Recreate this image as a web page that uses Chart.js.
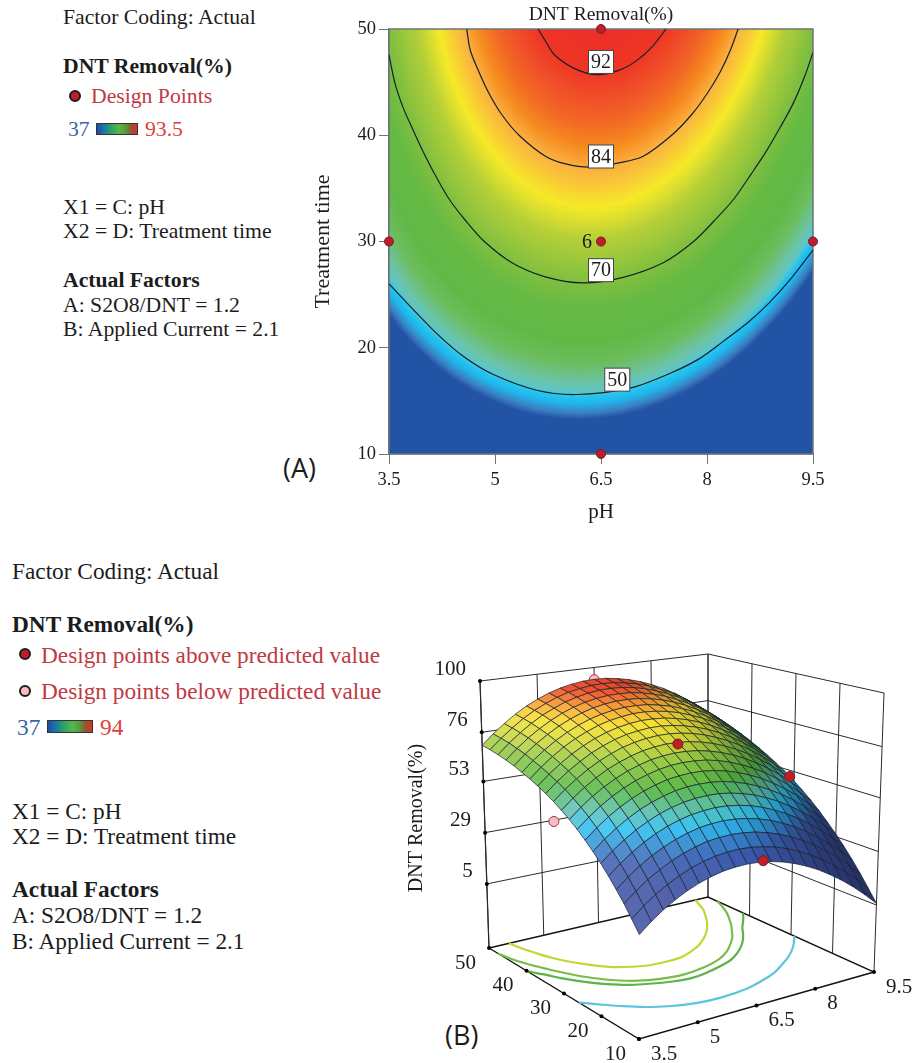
<!DOCTYPE html>
<html>
<head>
<meta charset="utf-8">
<title>DNT Removal</title>
<script src="https://cdn.jsdelivr.net/npm/chart.js@4/dist/chart.umd.js"></script>
<style>
  html, body { margin: 0; padding: 0; background: #fff; }
  body { position: relative; width: 914px; height: 1063px; overflow: hidden; font-family: "Liberation Serif", serif; color: #1c1c1c; }
  canvas { position: absolute; }
  #wrap-a { position: absolute; left: 300px; top: 0; width: 560px; height: 530px; }
  #wrap-b { position: absolute; left: 400px; top: 640px; width: 514px; height: 423px; }
  .t { position: absolute; white-space: nowrap; line-height: 1; transform: translateY(-50%); }
  .a { font-size: 21.7px; }
  .b { font-size: 23.3px; }
  .bold { font-weight: bold; }
  .red { color: #bf3a43; }
  .low { color: #3c64a8; }
  .high { color: #e0403c; }
  .dot { position: absolute; width: 12px; height: 12px; border-radius: 50%; border: 2px solid #1c1c1c; box-sizing: border-box; }
  .bar { position: absolute; border: 1px solid #333; box-sizing: border-box;
    background: linear-gradient(to right, #1d4fa0 0%, #1a6fb0 15%, #2e9e6a 35%, #55b848 55%, #55a040 70%, #8a5a30 85%, #e0302a 100%); }
  .panel { position: absolute; font-family: "Open Sans", sans-serif; font-size: 27px; transform: translateY(-50%); }
</style>
</head>
<body>

<div class="t a" style="left:63px;top:18px">Factor Coding: Actual</div>
<div class="t a bold" style="left:63px;top:67px">DNT Removal(%)</div>
<div class="dot" style="left:69px;top:90px;background:#bd1e2a"></div>
<div class="t a red" style="left:91px;top:97px">Design Points</div>
<div class="t a low" style="left:68px;top:130px">37</div>
<div class="bar" style="left:96px;top:123px;width:42px;height:12px"></div>
<div class="t a high" style="left:145px;top:130px">93.5</div>
<div class="t a" style="left:63px;top:208px">X1 = C: pH</div>
<div class="t a" style="left:63px;top:232px">X2 = D: Treatment time</div>
<div class="t a bold" style="left:63px;top:281px">Actual Factors</div>
<div class="t a" style="left:63px;top:306px">A: S2O8/DNT = 1.2</div>
<div class="t a" style="left:63px;top:330px">B: Applied Current = 2.1</div>
<div class="panel" style="left:283px;top:467px">(A)</div>

<div class="t b" style="left:12px;top:572px">Factor Coding: Actual</div>
<div class="t b bold" style="left:12px;top:625px">DNT Removal(%)</div>
<div class="dot" style="left:19px;top:648px;background:#bd1e2a"></div>
<div class="t b red" style="left:41px;top:656px">Design points above predicted value</div>
<div class="dot" style="left:19px;top:685px;background:#f7bcc4"></div>
<div class="t b red" style="left:41px;top:692px">Design points below predicted value</div>
<div class="t b low" style="left:17px;top:728px">37</div>
<div class="bar" style="left:47px;top:720px;width:46px;height:13px"></div>
<div class="t b high" style="left:100px;top:728px">94</div>
<div class="t b" style="left:12px;top:812px">X1 = C: pH</div>
<div class="t b" style="left:12px;top:837px">X2 = D: Treatment time</div>
<div class="t b bold" style="left:12px;top:890px">Actual Factors</div>
<div class="t b" style="left:12px;top:916px">A: S2O8/DNT = 1.2</div>
<div class="t b" style="left:12px;top:942px">B: Applied Current = 2.1</div>
<div class="panel" style="left:445px;top:1034px">(B)</div>

<div id="wrap-a"><canvas id="contour-chart"></canvas></div>
<div id="wrap-b"><canvas id="surface-chart"></canvas></div>

<script>
// Response surface: one row per treatment time, one column per pH
const phGrid = [3.5, 3.8, 4.1, 4.4, 4.7, 5.0, 5.3, 5.6, 5.9, 6.2, 6.5, 6.8, 7.1, 7.4, 7.7, 8.0, 8.3, 8.6, 8.9, 9.2, 9.5];
const timeGrid = [10, 12, 14, 16, 18, 20, 22, 24, 26, 28, 30, 32, 34, 36, 38, 40, 42, 44, 46, 48, 50];
const removal = [
  [17, 21.1, 24.7, 27.7, 30.3, 32.4, 34, 35.2, 35.8, 36, 35.7, 34.9, 33.6, 31.8, 29.5, 26.8, 23.5, 19.8, 15.6, 10.9, 5.7],
  [21.7, 25.9, 29.5, 32.5, 35.1, 37.3, 38.9, 40.1, 40.8, 41, 40.7, 39.9, 38.7, 36.9, 34.6, 32, 28.7, 25, 20.8, 16.2, 11],
  [26.4, 30.5, 34.2, 37.2, 39.9, 42, 43.7, 45, 45.6, 45.9, 45.6, 44.9, 43.6, 41.9, 39.7, 37, 33.8, 30.1, 26, 21.3, 16.2],
  [30.7, 34.9, 38.5, 41.7, 44.3, 46.5, 48.2, 49.5, 50.2, 50.5, 50.2, 49.5, 48.3, 46.6, 44.4, 41.8, 38.6, 34.9, 30.8, 26.2, 21.1],
  [34.8, 39, 42.7, 45.9, 48.6, 50.8, 52.5, 53.8, 54.5, 54.9, 54.7, 54, 52.8, 51.1, 48.9, 46.3, 43.2, 39.6, 35.5, 30.9, 25.8],
  [38.7, 42.9, 46.6, 49.8, 52.5, 54.8, 56.5, 57.8, 58.6, 58.9, 58.8, 58.1, 56.9, 55.3, 53.1, 50.6, 47.4, 43.9, 39.8, 35.2, 30.2],
  [42.2, 46.5, 50.2, 53.4, 56.2, 58.4, 60.2, 61.6, 62.4, 62.7, 62.6, 62, 60.8, 59.2, 57.1, 54.5, 51.4, 47.9, 43.8, 39.3, 34.3],
  [45.6, 49.9, 53.7, 56.9, 59.7, 62, 63.8, 65.2, 66, 66.4, 66.3, 65.7, 64.6, 63, 60.9, 58.4, 55.3, 51.8, 47.8, 43.3, 38.3],
  [48.8, 53.1, 56.9, 60.2, 63, 65.3, 67.1, 68.5, 69.4, 69.8, 69.7, 69.2, 68.1, 66.5, 64.4, 61.9, 58.9, 55.4, 51.4, 46.9, 42],
  [51.6, 56, 59.8, 63.1, 65.9, 68.3, 70.1, 71.6, 72.4, 72.9, 72.8, 72.3, 71.2, 69.7, 67.7, 65.2, 62.2, 58.7, 54.8, 50.3, 45.4],
  [54.2, 58.6, 62.4, 65.8, 68.7, 71, 72.9, 74.4, 75.3, 75.8, 75.7, 75.2, 74.2, 72.7, 70.7, 68.2, 65.3, 61.8, 57.9, 53.5, 48.6],
  [56.7, 61.1, 64.9, 68.3, 71.2, 73.6, 75.6, 77, 78, 78.5, 78.5, 78, 77, 75.5, 73.5, 71.1, 68.2, 64.8, 60.8, 56.5, 51.6],
  [58.8, 63.2, 67.1, 70.5, 73.5, 75.9, 77.9, 79.4, 80.3, 80.9, 80.9, 80.4, 79.4, 78, 76.1, 73.7, 70.8, 67.4, 63.5, 59.1, 54.3],
  [60.8, 65.2, 69.1, 72.6, 75.5, 78, 80, 81.5, 82.5, 83.1, 83.1, 82.7, 81.7, 80.3, 78.4, 76, 73.2, 69.8, 65.9, 61.6, 56.8],
  [62.6, 67, 71, 74.5, 77.5, 79.9, 82, 83.5, 84.5, 85.2, 85.2, 84.8, 83.9, 82.5, 80.6, 78.3, 75.5, 72.1, 68.3, 64, 59.2],
  [64.2, 68.7, 72.7, 76.2, 79.2, 81.7, 83.8, 85.3, 86.4, 87, 87.1, 86.8, 85.8, 84.5, 82.6, 80.3, 77.5, 74.2, 70.4, 66.2, 61.4],
  [65.8, 70.3, 74.3, 77.8, 80.9, 83.4, 85.5, 87.1, 88.2, 88.8, 88.9, 88.6, 87.7, 86.4, 84.6, 82.3, 79.5, 76.2, 72.4, 68.2, 63.5],
  [67.1, 71.6, 75.7, 79.2, 82.3, 84.9, 87, 88.6, 89.7, 90.4, 90.5, 90.3, 89.4, 88.1, 86.3, 84, 81.3, 78.1, 74.3, 70.1, 65.4],
  [68.2, 72.8, 76.8, 80.5, 83.6, 86.1, 88.3, 89.9, 91.1, 91.8, 92, 91.7, 90.9, 89.6, 87.8, 85.6, 82.9, 79.7, 75.9, 71.8, 67.1],
  [69.2, 73.7, 77.8, 81.5, 84.6, 87.2, 89.4, 91.1, 92.2, 93, 93.2, 93, 92.1, 90.9, 89.2, 86.9, 84.3, 81.1, 77.4, 73.2, 68.6],
  [69.9, 74.5, 78.6, 82.3, 85.5, 88.1, 90.3, 92, 93.2, 94, 94.2, 94, 93.2, 92, 90.3, 88.1, 85.5, 82.3, 78.6, 74.5, 69.9]
];

// Contour lines, pH then treatment time
const contour50Ph = [3.5, 3.8, 4.18, 4.55, 4.97, 5.59, 6.15, 6.91, 7.48, 7.9, 8.23, 8.6, 8.89, 9.2, 9.5];
const contour50Time = [26, 23.9, 21.3, 19.2, 17.5, 16, 15.6, 16.2, 17.6, 19, 20.6, 22.5, 24.3, 26.6, 29.2];
const contour66Ph = [3.5, 3.62, 3.76, 3.92, 4.12, 4.36, 4.66, 5.05, 5.84, 6.25, 6.7, 7.49, 7.92, 8.24, 8.5, 8.72, 8.92, 9.1, 9.3, 9.5];
const contour66Time = [40, 38.5, 37, 35, 33, 31, 29, 27, 24.8, 24.3, 24.7, 26.5, 28.5, 30.5, 32.5, 34.5, 36.5, 38, 39.7, 41.6];
const contour70Ph = [3.5, 3.58, 3.7, 3.84, 3.98, 4.15, 4.35, 4.58, 4.85, 5.24, 5.7, 6.25, 6.8, 7.38, 7.81, 8.11, 8.38, 8.62, 8.84, 9.04, 9.22, 9.38, 9.5];
const contour70Time = [47.6, 45, 42.6, 40.5, 38.5, 36.3, 34, 32, 30, 28, 26.7, 26.1, 26.6, 28, 30, 32, 34, 36.3, 38.5, 40.8, 43, 45.5, 47.8];
const contour78Ph = [4.05, 4.11, 4.19, 4.29, 4.41, 4.56, 4.76, 4.99, 5.31, 5.87, 6.4, 6.85, 7.45, 7.82, 8.12, 8.36, 8.57, 8.75, 8.92, 9.04, 9.15];
const contour78Time = [50, 48, 46, 44, 42, 40, 38, 36, 34, 32.1, 31.7, 32, 34, 36, 38, 40, 42, 44, 46, 48, 50];
const contour84Ph = [4.6, 4.65, 4.77, 4.91, 5.09, 5.34, 5.72, 6.0, 6.35, 6.75, 7.09, 7.5, 7.79, 8.01, 8.19, 8.33, 8.44];
const contour84Time = [50, 48, 46, 44, 42, 40, 38, 37.3, 37, 37.4, 38, 40, 42, 44, 46, 48, 50];
const contour92Ph = [5.61, 5.72, 5.85, 6.15, 6.45, 6.75, 7.0, 7.22, 7.42];
const contour92Time = [50, 48.8, 47.5, 46.2, 45.7, 46.1, 47, 48.3, 50];

const contourLabels = ['92', '84', '70', '50'];
const contourLabelPh = [6.5, 6.5, 6.5, 6.73];
const contourLabelTime = [46.9, 38, 27.3, 17];

// Design points
const designPh = [6.5, 6.5, 3.5, 9.5, 6.5];
const designTime = [50, 30, 30, 30, 10];

// Same points on the 3D plot, as far as they can be read there
const aboveDesignPh = [6.5, 9.5, 6.6];
const aboveDesignTime = [30, 31, 10];
const aboveDesignRemoval = [75, 50, 36];
const belowDesignPh = [6.5, 3.5];
const belowDesignTime = [50, 32];
const belowDesignRemoval = [94, 48];

const phTicks = [3.5, 5, 6.5, 8, 9.5];
const timeTicks = [10, 20, 30, 40, 50];
const removalTicks = [5, 29, 53, 76, 100];
const removalFloor = -25;

// Colour ramps, flat map then 3D mesh
const rampValues = [44, 45.5, 47.5, 48.8, 50, 52, 56, 60, 66, 70, 76, 80, 84, 86, 88, 90, 92, 94];
const rampColors = ['#2353a4', '#3a7fc0', '#22b4ea', '#20c4f1', '#5cc6c8', '#6cc3a6', '#6cbd5c', '#60b946',
  '#66ba44', '#80bf3f', '#b4cf38', '#f6e928', '#fbb040', '#f68b1f', '#f26a24', '#f05028', '#ee3524', '#ec2f29'];
const meshValues = [30, 40, 46, 50, 55, 62, 70, 76, 82, 87, 92];
const meshColors = ['#3b4da0', '#3a5cb0', '#2f95d6', '#2cc0f0', '#5abfb0', '#55b63f', '#8ec63f', '#d0d838', '#f8e030', '#f8a030', '#ee4a2a'];

const FONT = '"Liberation Serif", serif';
const INK = '#1c1c1c';
const POINT_RED = '#bd1e2a';

Chart.defaults.font.family = FONT;
Chart.defaults.color = INK;
Chart.defaults.animation = false;

function hexToRgb(hex) {
  return [parseInt(hex.slice(1, 3), 16), parseInt(hex.slice(3, 5), 16), parseInt(hex.slice(5, 7), 16)];
}

function makeRamp(values, colors) {
  const rgb = colors.map(hexToRgb);
  return value => {
    if (value <= values[0]) return rgb[0];
    for (let i = 1; i < values.length; i++) {
      if (value <= values[i]) {
        const f = (value - values[i - 1]) / (values[i] - values[i - 1]);
        return rgb[i].map((c, k) => rgb[i - 1][k] + (c - rgb[i - 1][k]) * f);
      }
    }
    return rgb[rgb.length - 1];
  };
}
const rampColor = makeRamp(rampValues, rampColors);
const meshColor = makeRamp(meshValues, meshColors);

// Value under a pixel of the heat map
function lookup(ph, time) {
  const fx = Math.min(Math.max((ph - phGrid[0]) / 0.3, 0), phGrid.length - 1.001);
  const fy = Math.min(Math.max((time - timeGrid[0]) / 2, 0), timeGrid.length - 1.001);
  const i = Math.floor(fx), j = Math.floor(fy);
  const dx = fx - i, dy = fy - j;
  return (removal[j][i] * (1 - dx) + removal[j][i + 1] * dx) * (1 - dy) +
         (removal[j + 1][i] * (1 - dx) + removal[j + 1][i + 1] * dx) * dy;
}

function zip(xs, ys) {
  return xs.map((x, i) => ({ x: x, y: ys[i] }));
}

// ---------- panel A ----------
const heatPlugin = {
  id: 'heat',
  beforeDatasetsDraw(chart) {
    const { ctx, chartArea: area, scales } = chart;
    const w = Math.round(area.width), h = Math.round(area.height);
    const off = document.createElement('canvas');
    off.width = w; off.height = h;
    const octx = off.getContext('2d');
    const img = octx.createImageData(w, h);
    for (let py = 0; py < h; py++) {
      const time = scales.y.getValueForPixel(area.top + py + 0.5);
      for (let px = 0; px < w; px++) {
        const ph = scales.x.getValueForPixel(area.left + px + 0.5);
        const c = rampColor(lookup(ph, time));
        const k = (py * w + px) * 4;
        img.data[k] = c[0]; img.data[k + 1] = c[1]; img.data[k + 2] = c[2]; img.data[k + 3] = 255;
      }
    }
    octx.putImageData(img, 0, 0);
    ctx.drawImage(off, area.left, area.top, area.width, area.height);
    ctx.save();
    ctx.strokeStyle = '#6f7478';
    ctx.lineWidth = 1.5;
    ctx.strokeRect(area.left, area.top, area.width, area.height);
    ctx.restore();
  },
  afterDatasetsDraw(chart) {
    const { ctx, scales } = chart;
    ctx.save();
    ctx.font = '20px ' + FONT;
    ctx.textAlign = 'center';
    ctx.textBaseline = 'middle';
    contourLabels.forEach((label, i) => {
      const x = scales.x.getPixelForValue(contourLabelPh[i]);
      const y = scales.y.getPixelForValue(contourLabelTime[i]);
      ctx.fillStyle = '#fff';
      ctx.strokeStyle = '#444';
      ctx.lineWidth = 1;
      ctx.fillRect(x - 12.5, y - 11.5, 25, 23);
      ctx.strokeRect(x - 12.5, y - 11.5, 25, 23);
      ctx.fillStyle = INK;
      ctx.fillText(label, x, y + 1);
    });
    // replicate count beside the centre point
    ctx.fillText('6', scales.x.getPixelForValue(6.5) - 14, scales.y.getPixelForValue(30) + 1);
    ctx.restore();
  }
};

function contourDataset(xs, ys) {
  return { data: zip(xs, ys), showLine: true, borderColor: '#16202a', borderWidth: 1.2, pointRadius: 0, tension: 0.3, fill: false };
}

new Chart(document.getElementById('contour-chart'), {
  type: 'scatter',
  data: {
    datasets: [
      {
        data: zip(designPh, designTime), clip: false, pointRadius: 4.5,
        pointBackgroundColor: POINT_RED, pointBorderColor: '#7d1a20', pointBorderWidth: 1
      },
      contourDataset(contour50Ph, contour50Time),
      contourDataset(contour70Ph, contour70Time),
      contourDataset(contour84Ph, contour84Time),
      contourDataset(contour92Ph, contour92Time)
    ]
  },
  options: {
    responsive: true,
    maintainAspectRatio: false,
    events: [],
    layout: { autoPadding: false, padding: { top: 3, right: 47, left: 0, bottom: 0 } },
    plugins: {
      legend: { display: false },
      tooltip: { enabled: false },
      title: {
        display: true, text: 'DNT Removal(%)', fullSize: false,
        font: { size: 19.5, weight: 'normal' }, color: INK, padding: { top: 0, bottom: 2.6 }
      }
    },
    scales: {
      x: {
        type: 'linear', min: 3.5, max: 9.5,
        afterBuildTicks(axis) { axis.ticks = phTicks.map(v => ({ value: v })); },
        afterFit(axis) { axis.height = 76; },
        grid: { drawOnChartArea: false, color: '#6f7478', tickLength: 10 },
        border: { color: '#6f7478', width: 1.5 },
        ticks: { font: { size: 18.5 }, color: INK, maxRotation: 0, padding: 5 },
        title: { display: true, text: 'pH', font: { size: 21 }, color: INK, padding: { top: 2, bottom: 5 } }
      },
      y: {
        type: 'linear', min: 10, max: 50,
        afterBuildTicks(axis) { axis.ticks = timeTicks.map(v => ({ value: v })); },
        afterFit(axis) { axis.width = 89; },
        grid: { drawOnChartArea: false, color: '#6f7478', tickLength: 10 },
        border: { color: '#6f7478', width: 1.5 },
        ticks: { font: { size: 18.5 }, color: INK, padding: 3 },
        title: { display: true, text: 'Treatment time', font: { size: 22 }, color: INK, padding: { top: 10, bottom: 2 } }
      }
    }
  },
  plugins: [heatPlugin]
});

// ---------- panel B ----------
// Corners of the plot box on the page: pH low/high, time low/high, floor and roof
const floorLowLow = [639, 1039], floorHighLow = [874, 972], floorLowHigh = [489, 948], floorHighHigh = [708, 897];
const roofLowLow = [640, 728], roofHighLow = [884, 693], roofLowHigh = [480, 681], roofHighHigh = [708, 654];

function project(ph, time, value) {
  const u = (ph - 3.5) / 6, v = (time - 10) / 40, w = (value - removalFloor) / (100 - removalFloor);
  const blend = (a, b, c, d, k) => (a[k] * (1 - u) + b[k] * u) * (1 - v) + (c[k] * (1 - u) + d[k] * u) * v;
  const fx = blend(floorLowLow, floorHighLow, floorLowHigh, floorHighHigh, 0);
  const fy = blend(floorLowLow, floorHighLow, floorLowHigh, floorHighHigh, 1);
  const rx = blend(roofLowLow, roofHighLow, roofLowHigh, roofHighHigh, 0);
  const ry = blend(roofLowLow, roofHighLow, roofLowHigh, roofHighHigh, 1);
  return { x: fx + (rx - fx) * w, y: fy + (ry - fy) * w };
}

function lineDataset(points, color, width, order, smooth) {
  return { data: points, showLine: true, borderColor: color, borderWidth: width, pointRadius: 0, order: order, tension: smooth ? 0.3 : 0, fill: false };
}

function quadColor(i, j) {
  const mean = (removal[j][i] + removal[j][i + 1] + removal[j + 1][i] + removal[j + 1][i + 1]) / 4;
  const slope = ((removal[j][i + 1] + removal[j + 1][i + 1]) - (removal[j][i] + removal[j + 1][i])) / 2;
  let c = meshColor(mean);
  if (slope < 0) {
    const f = Math.max(0.6, 1 + slope * 0.07);
    c = c.map(x => x * f);
  } else {
    const f = Math.min(0.15, slope * 0.04);
    c = c.map(x => x + (255 - x) * f);
  }
  return 'rgb(' + c.map(Math.round).join(',') + ')';
}

const surfaceDatasets = [];

// back walls and floor go first (highest order is drawn first)
const WALL = '#2a2a2a';
phTicks.forEach(ph => {
  surfaceDatasets.push(lineDataset([project(ph, 50, removalFloor), project(ph, 50, 100)], WALL, 1, 40000));
});
timeTicks.forEach(time => {
  surfaceDatasets.push(lineDataset([project(9.5, time, removalFloor), project(9.5, time, 100)], WALL, 1, 40000));
});
removalTicks.forEach(value => {
  surfaceDatasets.push(lineDataset([project(3.5, 50, value), project(9.5, 50, value), project(9.5, 10, value)], WALL, 1, 40000));
});
surfaceDatasets.push(lineDataset([project(3.5, 50, removalFloor), project(3.5, 10, removalFloor), project(9.5, 10, removalFloor), project(9.5, 50, removalFloor), project(3.5, 50, removalFloor)], '#111', 1.4, 39000));

[[contour50Ph, contour50Time, '#5cc4dc'], [contour66Ph, contour66Time, '#5cb446'],
 [contour70Ph, contour70Time, '#78bd4a'], [contour78Ph, contour78Time, '#c4d636']].forEach(([xs, ys, color]) => {
  const pts = xs.map((ph, i) => project(ph, ys[i], removalFloor));
  surfaceDatasets.push(lineDataset(pts, color, 2.2, 38000, true));
});

surfaceDatasets.push({
  data: belowDesignPh.map((ph, i) => project(ph, belowDesignTime[i], belowDesignRemoval[i])),
  pointRadius: 5, pointBackgroundColor: '#f7bcc4', pointBorderColor: '#a0303a', pointBorderWidth: 1, order: 30000, clip: false
});

// mesh, far quads first
for (let j = 0; j < timeGrid.length - 1; j++) {
  for (let i = 0; i < phGrid.length - 1; i++) {
    const corners = [
      project(phGrid[i], timeGrid[j], removal[j][i]),
      project(phGrid[i + 1], timeGrid[j], removal[j][i + 1]),
      project(phGrid[i + 1], timeGrid[j + 1], removal[j + 1][i + 1]),
      project(phGrid[i], timeGrid[j + 1], removal[j + 1][i])
    ];
    surfaceDatasets.push({
      data: corners.concat([corners[0]]), showLine: true, fill: 'shape',
      backgroundColor: quadColor(i, j), borderColor: '#14202c', borderWidth: 0.7,
      pointRadius: 0, order: 100 + i + j
    });
  }
}

surfaceDatasets.push({
  data: aboveDesignPh.map((ph, i) => project(ph, aboveDesignTime[i], aboveDesignRemoval[i])),
  pointRadius: 5, pointBackgroundColor: POINT_RED, pointBorderColor: '#7d1a20', pointBorderWidth: 1, order: 1, clip: false
});

// little black tick dots on the box edges
const tickDots = []
  .concat(phTicks.map(ph => project(ph, 10, removalFloor)))
  .concat(timeTicks.map(time => project(3.5, time, removalFloor)))
  .concat(removalTicks.map(value => project(3.5, 50, value)));
surfaceDatasets.push({ data: tickDots, pointRadius: 2, pointBackgroundColor: '#000', pointBorderWidth: 0, order: 2, clip: false });

// left box edge
surfaceDatasets.push(lineDataset([project(3.5, 50, removalFloor), project(3.5, 50, 100)], WALL, 1.2, 40000));

const axisTextPlugin = {
  id: 'axisText',
  afterDatasetsDraw(chart) {
    const { ctx, scales } = chart;
    const at = p => ({ x: scales.x.getPixelForValue(p.x), y: scales.y.getPixelForValue(p.y) });
    ctx.save();
    ctx.fillStyle = INK;
    ctx.font = '21px ' + FONT;
    ctx.textBaseline = 'middle';
    ctx.textAlign = 'left';
    phTicks.forEach(ph => {
      const p = at(project(ph, 10, removalFloor));
      ctx.fillText(String(ph), p.x + 12, p.y + 15);
    });
    ctx.textAlign = 'right';
    timeTicks.forEach(time => {
      const p = at(project(3.5, time, removalFloor));
      ctx.fillText(String(time), p.x - 13, p.y + 15);
    });
    removalTicks.forEach(value => {
      const p = at(project(3.5, 50, value));
      ctx.fillText(String(value), p.x - 14, p.y - 12);
    });
    ctx.translate(scales.x.getPixelForValue(417), scales.y.getPixelForValue(818));
    ctx.rotate(-Math.PI / 2);
    ctx.textAlign = 'center';
    ctx.font = '20px ' + FONT;
    ctx.fillText('DNT Removal(%)', 0, 0);
    ctx.restore();
  }
};

new Chart(document.getElementById('surface-chart'), {
  type: 'scatter',
  data: { datasets: surfaceDatasets },
  options: {
    responsive: true,
    maintainAspectRatio: false,
    events: [],
    layout: { autoPadding: false, padding: 0 },
    plugins: { legend: { display: false }, tooltip: { enabled: false }, title: { display: false } },
    scales: {
      x: { type: 'linear', display: false, min: 400, max: 914 },
      y: { type: 'linear', display: false, min: 640, max: 1063, reverse: true }
    }
  },
  plugins: [axisTextPlugin]
});
</script>
</body>
</html>
